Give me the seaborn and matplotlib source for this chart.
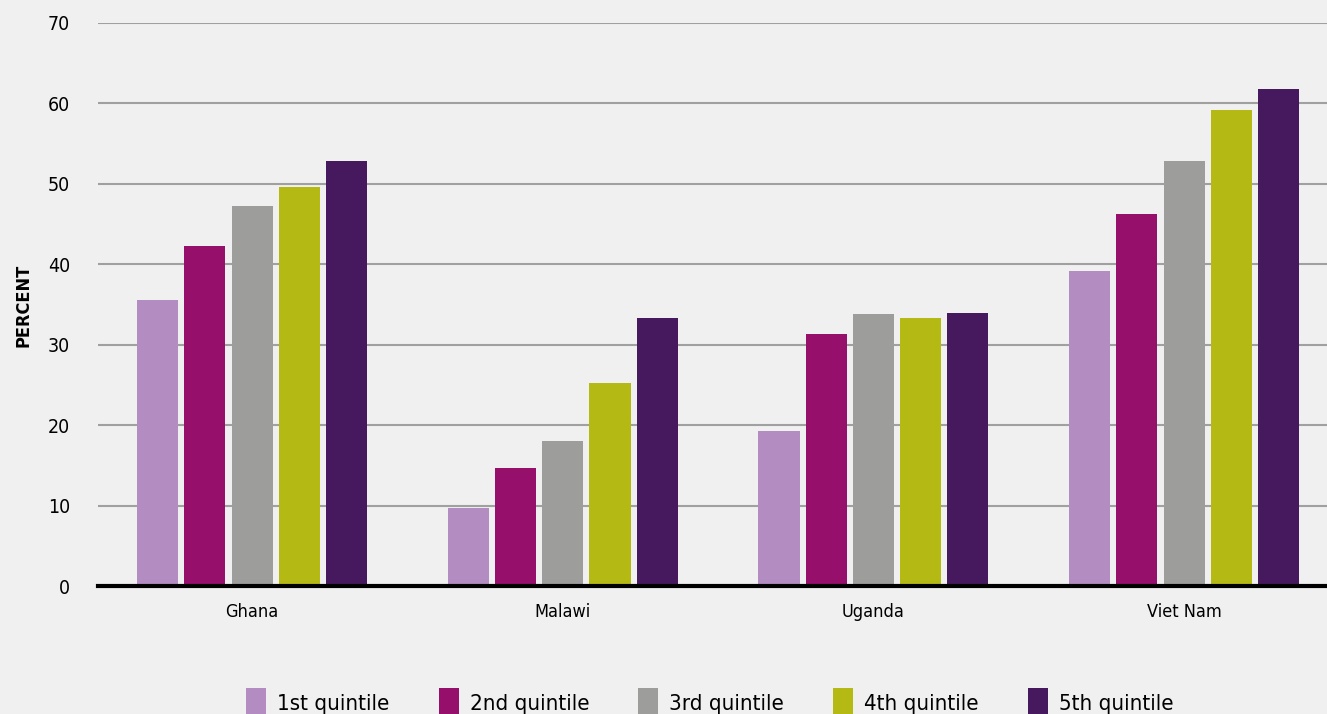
import numpy as np
import pandas as pd
import matplotlib
matplotlib.use("Agg")
import matplotlib.pyplot as plt
import seaborn as sns
from matplotlib.patches import Patch

countries = ["Ghana", "Malawi", "Uganda", "Viet Nam"]
quintiles = ["1st quintile", "2nd quintile", "3rd quintile", "4th quintile", "5th quintile"]
q1 = [35.6, 9.7, 19.3, 39.2]
q2 = [42.3, 14.7, 31.3, 46.2]
q3 = [47.3, 18.0, 33.8, 52.8]
q4 = [49.6, 25.3, 33.3, 59.2]
q5 = [52.9, 33.3, 33.9, 61.8]
colors = ["#B38DC1", "#950F6B", "#9D9D9B", "#B5B914", "#46185E"]
yticks = [0, 10, 20, 30, 40, 50, 60, 70]

rows = []
for q, vals in zip(quintiles, [q1, q2, q3, q4, q5]):
    for c, v in zip(countries, vals):
        rows.append({"country": c, "quintile": q, "value": v})
df = pd.DataFrame(rows)

sns.set_theme(style="white")
plt.rcParams["font.family"] = ["DejaVu Sans"]
plt.rcParams["font.stretch"] = "condensed"
plt.rcParams["text.color"] = "black"
plt.rcParams["xtick.color"] = "black"
plt.rcParams["ytick.color"] = "black"
bg = "#F0F0F0"

fig = plt.figure(figsize=(13.27, 7.14), dpi=100, facecolor=bg)
ax = fig.add_axes([98/1327, (714-586)/714, 1 - 98/1327, (586-23)/714])
ax.set_facecolor(bg)

sns.barplot(data=df, x="country", y="value", hue="quintile", order=countries,
            hue_order=quintiles, palette=colors, width=0.76, gap=0.13,
            ax=ax, legend=False, saturation=1, edgecolor="none")

ax.set_ylim(0, 70)
ax.set_xlim(-0.496, 3.46)
ax.set_yticks(yticks)
ax.set_yticklabels([str(t) for t in yticks], fontsize=14)
ax.tick_params(axis="x", labelsize=13, length=0, pad=12)
ax.tick_params(axis="y", length=0, pad=20)
ax.yaxis.grid(True, color="#A0A0A0", linewidth=1.5)
ax.set_axisbelow(True)
for s in ["top", "right", "left"]:
    ax.spines[s].set_visible(False)
ax.spines["bottom"].set_color("black")
ax.spines["bottom"].set_linewidth(3)
ax.set_xlabel("")
ax.set_ylabel("")
fig.text(24/1327, 1 - 305/714, "PERCENT", rotation=90, fontsize=13,
         fontweight="bold", ha="center", va="center")

handles = [Patch(facecolor=c, edgecolor="none") for c in colors]
fig.legend(handles, quintiles, loc="center", bbox_to_anchor=(0.535, 0.016),
           ncol=5, frameon=False, fontsize=16, handlelength=0.9, handleheight=1.6,
           handletextpad=0.5, columnspacing=2.2)

fig.savefig("out.png", dpi=100, facecolor=bg)
